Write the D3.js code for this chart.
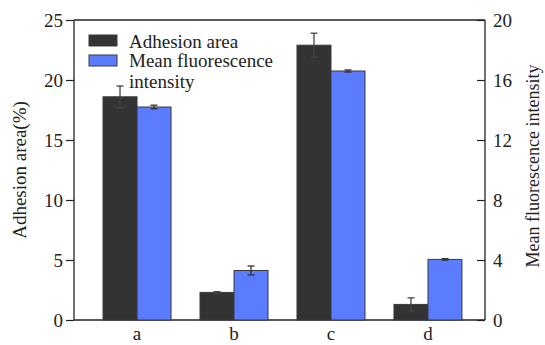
<!DOCTYPE html>
<html><head><meta charset="utf-8">
<script src="https://cdn.jsdelivr.net/npm/d3@7"></script>
</head><body style="margin:0"><svg id="c" width="545" height="345" font-family="Times New Roman"></svg>
<script>
const categories = ["a","b","c","d"];
const adhesionArea = [18.6, 2.3, 22.9, 1.3];
const adhesionErr = [0.9, 0.06, 1.0, 0.55];
const fluorescence = [14.2, 3.3, 16.6, 4.04];
const fluorescenceErr = [0.12, 0.3, 0.07, 0.05];
const leftTicks = [0,5,10,15,20,25];
const rightTicks = [0,4,8,12,16,20];
const seriesNames = ["Adhesion area","Mean fluorescence","intensity"];

const FONT = "Times New Roman";
const svg = d3.select("#c");
const L=74, R=485, T=20, B=320;
const x = d3.scaleBand().domain(categories).range([80,485]).paddingInner(0).paddingOuter(0.088);
const yL = d3.scaleLinear().domain([0,25]).range([B,T]);
const yR = d3.scaleLinear().domain([0,20]).range([B,T]);
const bw = 34, capW = 7;
const dark="#333333", blue="#5b7cff", stroke="#3a3a3a";

function txt(sel){ return sel.attr("font-family",FONT).style("font-family",'"'+FONT+'"').attr("fill","#222"); }

svg.append("line").attr("x1",L).attr("x2",R).attr("y1",T).attr("y2",T).attr("stroke","#222").attr("stroke-width",1.3);
svg.append("line").attr("x1",L).attr("x2",R).attr("y1",B).attr("y2",B).attr("stroke","#222").attr("stroke-width",1.3);

const ctr = d => x(d)+x.bandwidth()/2;
svg.selectAll(".d").data(categories).enter().append("rect")
 .attr("x",d=>ctr(d)-bw).attr("width",bw)
 .attr("y",(d,i)=>yL(adhesionArea[i])).attr("height",(d,i)=>B-yL(adhesionArea[i]))
 .attr("fill",dark).attr("stroke",stroke).attr("stroke-width",1);
svg.selectAll(".b").data(categories).enter().append("rect")
 .attr("x",d=>ctr(d)).attr("width",bw)
 .attr("y",(d,i)=>yR(fluorescence[i])).attr("height",(d,i)=>B-yR(fluorescence[i]))
 .attr("fill",blue).attr("stroke",stroke).attr("stroke-width",1);

function errBars(vals, errs, scale, off, col){
  const g = svg.append("g").attr("stroke",col).attr("stroke-width",1.3);
  categories.forEach((c,i)=>{
    const cx = ctr(c)+off;
    const y1 = scale(vals[i]+errs[i]), y0 = scale(vals[i]-errs[i]);
    g.append("line").attr("x1",cx).attr("x2",cx).attr("y1",y1).attr("y2",y0);
    g.append("line").attr("x1",cx-capW/2).attr("x2",cx+capW/2).attr("y1",y1).attr("y2",y1);
    g.append("line").attr("x1",cx-capW/2).attr("x2",cx+capW/2).attr("y1",y0).attr("y2",y0);
  });
}
errBars(adhesionArea, adhesionErr, yL, -bw/2, "#444");
errBars(fluorescence, fluorescenceErr, yR, bw/2, "#333");

const ax = svg.append("g").attr("transform",`translate(${L},0)`)
 .call(d3.axisLeft(yL).tickValues(leftTicks).tickSize(8).tickPadding(3));
const ar = svg.append("g").attr("transform",`translate(${R},0)`)
 .call(d3.axisRight(yR).tickValues(rightTicks).tickSize(-8).tickPadding(8));
const ab = svg.append("g").attr("transform",`translate(0,${B})`)
 .call(d3.axisBottom(x).tickSize(0).tickPadding(7));
ab.select(".domain").remove();
[ax,ar,ab].forEach(g=>{
  g.attr("font-family",FONT);
  txt(g.selectAll("text")).attr("font-size",19);
  g.selectAll("line").attr("stroke","#222").attr("stroke-width",1.2);
  g.select(".domain").attr("stroke","#222").attr("stroke-width",1.3);
});
ax.select(".domain").attr("d",`M0,${T}V${B}`);
ar.select(".domain").attr("d",`M0,${T}V${B}`);

txt(svg.append("text")).attr("transform",`translate(26,170) rotate(-90)`).attr("text-anchor","middle")
 .attr("font-size",19).text("Adhesion area(%)");
txt(svg.append("text")).attr("transform",`translate(539,166) rotate(-90)`).attr("text-anchor","middle")
 .attr("font-size",18).text("Mean fluorescence intensity");

const lg = svg.append("g");
lg.append("rect").attr("x",89).attr("y",35).attr("width",28).attr("height",11).attr("fill",dark).attr("stroke",stroke);
lg.append("rect").attr("x",89).attr("y",55).attr("width",28).attr("height",11).attr("fill",blue).attr("stroke",stroke);
[47.5,67,88].forEach((yy,i)=>{
  txt(lg.append("text")).attr("x",129).attr("y",yy).attr("font-size",19).text(seriesNames[i]);
});
</script></body></html>
